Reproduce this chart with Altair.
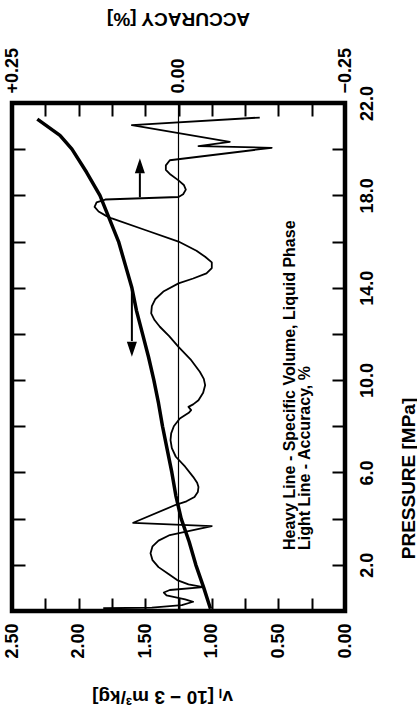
import altair as alt
import pandas as pd

# Specific volume of the liquid phase, 10^-3 m^3/kg, against pressure in MPa (heavy line)
vol_pressure = [0.1, 1.0, 2.0, 3.0, 4.0, 5.0, 6.0, 7.0, 8.0, 9.0, 10.0, 11.0, 12.0,
                13.0, 14.0, 15.0, 16.0, 17.0, 18.0, 19.0, 20.0, 20.6, 21.3]
vol_value = [1.01, 1.06, 1.12, 1.17, 1.23, 1.27, 1.30, 1.335, 1.37, 1.40, 1.435, 1.475, 1.52,
             1.565, 1.60, 1.65, 1.70, 1.77, 1.84, 1.94, 2.05, 2.14, 2.31]

# Accuracy of the fit in %, traced from high to low pressure (light line)
acc_pressure = [21.37, 21.04, 20.32, 20.13, 20.06, 19.52, 19.30, 19.10, 18.90, 18.65,
                18.45, 18.25, 18.05, 17.93, 17.82, 17.70, 17.50, 17.30, 17.10, 17.00,
                16.50, 16.00, 15.60, 15.34, 15.10, 14.85, 14.62, 14.40, 14.19, 13.85,
                13.50, 13.20, 12.89, 12.60, 12.31, 11.90, 11.44, 10.90, 10.36, 10.05,
                9.78, 9.45, 9.13, 8.95, 8.84, 8.70, 8.60, 8.34, 8.00, 7.69,
                7.40, 7.05, 6.68, 6.25, 5.81, 5.55, 5.37, 5.15, 4.94, 4.75,
                4.60, 3.82, 3.68, 3.29, 3.05, 2.80, 2.50, 2.20, 1.90, 1.60,
                1.34, 1.15, 1.03, 0.91, 0.80, 0.68, 0.50, 0.40, 0.25, 0.15, 0.12]
acc_value = [-0.122, 0.070, -0.077, -0.030, -0.140, 0.013, 0.019, 0.019, 0.012, 0.000,
             -0.008, -0.011, -0.007, 0.000, 0.110, 0.123, 0.126, 0.120, 0.108, 0.100,
             0.050, 0.000, -0.027, -0.040, -0.050, -0.050, -0.042, -0.022, 0.000, 0.022,
             0.035, 0.040, 0.041, 0.036, 0.028, 0.014, 0.000, -0.018, -0.032, -0.038,
             -0.040, -0.037, -0.030, -0.022, -0.015, -0.019, -0.016, -0.002, 0.007, 0.011,
             0.012, 0.010, 0.004, -0.010, -0.022, -0.028, -0.030, -0.029, -0.024, -0.012,
             0.004, 0.068, -0.050, 0.013, 0.030, 0.039, 0.042, 0.039, 0.030, 0.015,
             0.002, -0.015, -0.037, 0.013, 0.022, 0.018, -0.010, -0.022, -0.005, 0.040, 0.113]

vol_ticks = [0.0, 0.25, 0.5, 0.75, 1.0, 1.25, 1.5, 1.75, 2.0, 2.25, 2.5]
acc_ticks = [-0.25, -0.20, -0.15, -0.10, -0.05, 0.0, 0.05, 0.10, 0.15, 0.20, 0.25]
p_ticks_right = [2, 4, 6, 8, 10, 12, 14, 16, 18, 20, 22]
p_ticks_left = [2, 4, 6, 8, 10, 12, 14, 16, 18, 20]

legend_lines = ["Heavy Line - Specific Volume, Liquid Phase", "Light Line - Accuracy, %"]

FONT = "Liberation Sans"
INK = "black"

vol_scale = alt.Scale(domain=[0, 2.5], reverse=True, nice=False, zero=False)
acc_scale = alt.Scale(domain=[-0.25, 0.25], reverse=True, nice=False, zero=False)
p_scale = alt.Scale(domain=[0, 22], nice=False, zero=False)

common_axis = dict(
    domain=False, grid=False, tickColor=INK, tickWidth=2, tickSize={"expr": "-13"},
    labelFont=FONT, labelFontWeight="bold", labelFontSize=18, labelColor=INK,
    labelFlush=False, labelOverlap=False, labelAngle=-90,
    titleFont=FONT, titleFontWeight="bold", titleFontSize=19, titleColor=INK,
    titleAlign="center", titleBaseline="middle",
)

vol_axis = alt.Axis(
    orient="bottom", values=vol_ticks, labelAlign="right", labelBaseline="middle",
    labelPadding=25,
    labelExpr="round(datum.value * 100) % 50 == 0 ? format(datum.value, '.2f') : ''",
    title="v\u2097 [10 \u2212 3 m\u00b3/kg]", titleAngle=180, titleX=150, titleY=85,
    **common_axis,
)
acc_axis = alt.Axis(
    orient="top", values=acc_ticks, labelAlign="left", labelBaseline="middle",
    labelPadding=23,
    labelExpr="abs(datum.value) < 0.001 ? '0.00' : (abs(abs(datum.value) - 0.25) < 0.001 ? "
              "(datum.value > 0 ? '+0.25' : '\u22120.25') : '')",
    title="ACCURACY [%]", titleAngle=180, titleX=166, titleY=-85,
    **common_axis,
)
p_axis_right = alt.Axis(
    orient="right", values=p_ticks_right, labelAlign="center", labelBaseline="top",
    labelPadding=26,
    labelExpr="(round(datum.value) - 2) % 4 == 0 ? format(datum.value, '.1f') : ''",
    title="PRESSURE [MPa]", titleAngle=270, titleX=63, titleY=375,
    **common_axis,
)
p_axis_left = alt.Axis(
    orient="left", values=p_ticks_left, labels=False, title=None,
    domain=False, grid=False, tickColor=INK, tickWidth=2, tickSize={"expr": "-13"},
)

vol_df = pd.DataFrame({"p": vol_pressure, "v": vol_value, "i": range(len(vol_value))})
acc_df = pd.DataFrame({"p": acc_pressure, "acc": acc_value, "i": range(len(acc_value))})

heavy = alt.Chart(vol_df).mark_line(color=INK, strokeWidth=3.5, strokeJoin="round").encode(
    x=alt.X("v:Q", scale=vol_scale, axis=vol_axis),
    y=alt.Y("p:Q", scale=p_scale, axis=p_axis_right),
    order="i:Q",
)

light = alt.Chart(acc_df).mark_line(color=INK, strokeWidth=1.8, strokeJoin="round").encode(
    x=alt.X("acc:Q", scale=acc_scale, axis=acc_axis),
    y=alt.Y("p:Q", scale=p_scale, axis=p_axis_left),
    order="i:Q",
)

zero_line = alt.Chart(pd.DataFrame({"acc": [0.0]})).mark_rule(color=INK, strokeWidth=1.2).encode(
    x=alt.X("acc:Q", scale=acc_scale, axis=None),
)

# Arrow toward the accuracy axis
up_df = pd.DataFrame({"acc": [0.058], "p0": [17.92], "p1": [18.96], "ph": [19.28]})
up_shaft = alt.Chart(up_df).mark_rule(color=INK, strokeWidth=2).encode(
    x=alt.X("acc:Q", scale=acc_scale, axis=None),
    y=alt.Y("p0:Q", scale=p_scale, axis=None),
    y2="p1:Q",
)
up_head = alt.Chart(up_df).mark_point(
    shape="M0,-1L0.67,1L-0.67,1Z", filled=True, size=225, color=INK, opacity=1, strokeWidth=0
).encode(
    x=alt.X("acc:Q", scale=acc_scale, axis=None),
    y=alt.Y("ph:Q", scale=p_scale, axis=None),
)

# Arrow toward the specific-volume axis
down_df = pd.DataFrame({"v": [1.60], "p0": [14.05], "p1": [11.69], "ph": [11.34]})
down_shaft = alt.Chart(down_df).mark_rule(color=INK, strokeWidth=2).encode(
    x=alt.X("v:Q", scale=vol_scale, axis=None),
    y=alt.Y("p0:Q", scale=p_scale, axis=None),
    y2="p1:Q",
)
down_head = alt.Chart(down_df).mark_point(
    shape="M0,1L0.67,-1L-0.67,-1Z", filled=True, size=225, color=INK, opacity=1, strokeWidth=0
).encode(
    x=alt.X("v:Q", scale=vol_scale, axis=None),
    y=alt.Y("ph:Q", scale=p_scale, axis=None),
)

note_df = pd.DataFrame({"text": legend_lines, "v": [0.413, 0.30], "p": [2.64, 2.64]})
note = alt.Chart(note_df).mark_text(
    font=FONT, fontWeight="bold", fontSize=16, color=INK, angle=270,
    align="left", baseline="middle",
).encode(
    x=alt.X("v:Q", scale=vol_scale, axis=None),
    y=alt.Y("p:Q", scale=p_scale, axis=None),
    text="text:N",
)

chart = alt.layer(
    heavy, light, zero_line, up_shaft, up_head, down_shaft, down_head, note
).resolve_scale(
    x="independent", y="independent"
).resolve_axis(
    x="independent", y="independent"
).properties(
    width=333, height=508,
    autosize=alt.AutoSizeParams(type="none"),
    padding={"left": 12, "top": 103, "right": 72, "bottom": 104},
    background="white",
).configure_view(
    stroke=INK, strokeWidth=4.5
)

chart.save("out.html", embed_options={"renderer": "svg", "actions": False})
